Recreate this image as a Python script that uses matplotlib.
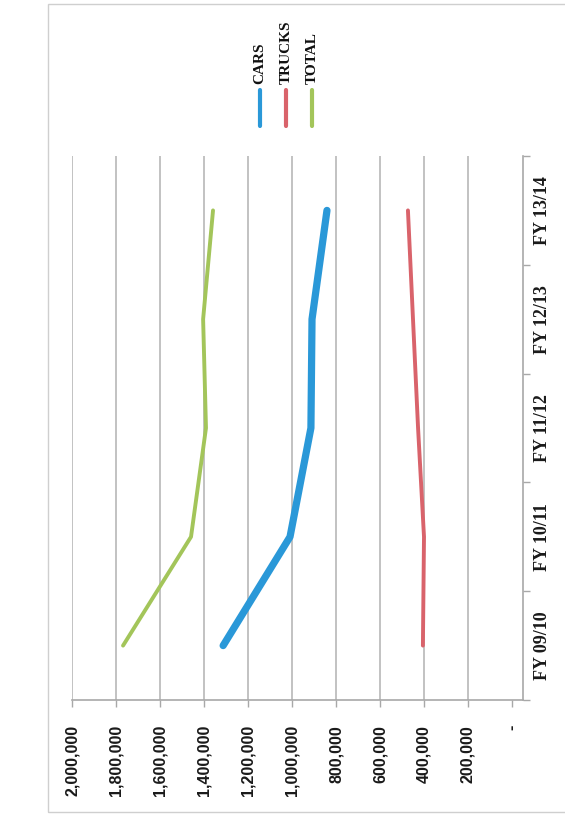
import matplotlib
matplotlib.use("Agg")
import matplotlib.pyplot as plt
from matplotlib.ticker import FuncFormatter, FixedLocator
from matplotlib.lines import Line2D
from matplotlib.patches import Rectangle

categories = ["FY 09/10", "FY 10/11", "FY 11/12", "FY 12/13", "FY 13/14"]
cars = [1313000, 1009000, 914000, 909000, 841000]
trucks = [405000, 400000, 427000, 450000, 473000]
total = [1768000, 1459000, 1391000, 1404000, 1359000]
value_ticks = [0, 200000, 400000, 600000, 800000, 1000000, 1200000,
               1400000, 1600000, 1800000, 2000000]

series = [("CARS", cars, "#2a98d8", 5.2),
          ("TRUCKS", trucks, "#d9636b", 2.8),
          ("TOTAL", total, "#a3c55a", 2.8)]

W, H = 565, 815
fig = plt.figure(figsize=(W / 100, H / 100), dpi=100)
fig.patch.set_facecolor("white")

# outer border
fig.patches.append(Rectangle((48 / W, 1 - 812 / H), 1.0, (812 - 4) / H,
                             transform=fig.transFigure, fill=False,
                             edgecolor="#cfcfcf", lw=1.0))

left, right = 72 / W, 523 / W
bottom, top = 1 - 700 / H, 1 - 156 / H
ax = fig.add_axes([left, bottom, right - left, top - bottom])

ypos = list(range(len(categories)))
for name, vals, col, lw in series:
    ax.plot(vals, ypos, color=col, lw=lw, solid_capstyle="round",
            solid_joinstyle="round", zorder=3)

ax.set_xlim(2000000, -50000)
ax.set_ylim(-0.5, len(categories) - 0.5)

ax.xaxis.set_major_locator(FixedLocator(value_ticks))
ax.xaxis.set_major_formatter(FuncFormatter(
    lambda v, p: "-" if v == 0 else f"{int(v):,}"))
ax.grid(axis="x", color="#b8b8b8", lw=1.2, zorder=1)
for gl, t in zip(ax.xaxis.get_gridlines(), value_ticks):
    if t == 0:
        gl.set_visible(False)

ax.yaxis.tick_right()
ax.set_yticks(ypos)
ax.set_yticklabels(categories)
ax.set_yticks([i - 0.5 for i in range(len(categories) + 1)], minor=True)
ax.tick_params(axis="y", which="major", length=0, pad=8)
ax.tick_params(axis="y", which="minor", length=5, width=1.0,
               color="#a8a8a8", direction="out", right=True, left=False)
ax.tick_params(axis="x", which="major", length=5, width=1.0,
               color="#a8a8a8", direction="out", pad=13)

for lab in ax.get_yticklabels():
    lab.set_rotation(90)
    lab.set_va("center")
    lab.set_ha("left")
    lab.set_fontfamily("Liberation Serif")
    lab.set_fontweight("bold")
    lab.set_fontsize(13)
    lab.set_color("#1a1a1a")
for lab in ax.get_xticklabels():
    lab.set_rotation(90)
    lab.set_ha("center")
    lab.set_va("top")
    lab.set_fontfamily("Liberation Sans")
    lab.set_fontweight("bold")
    lab.set_fontsize(11.5)
    lab.set_color("#1a1a1a")

for s in ["left", "top"]:
    ax.spines[s].set_visible(False)
for s in ["bottom", "right"]:
    ax.spines[s].set_color("#a8a8a8")
    ax.spines[s].set_linewidth(1.2)

# legend (rotated)
leg_x = [260, 286, 312]
for (name, vals, col, lw), x in zip(series, leg_x):
    fig.text(x / W, 1 - 84 / H, name, rotation=90, ha="center", va="bottom",
             fontfamily="Liberation Serif", fontweight="bold", fontsize=11,
             color="#111111")
    fig.lines.append(Line2D([x / W, x / W], [1 - 90 / H, 1 - 126 / H],
                            transform=fig.transFigure, color=col, lw=3,
                            solid_capstyle="round"))

fig.savefig("out.png", dpi=100)
